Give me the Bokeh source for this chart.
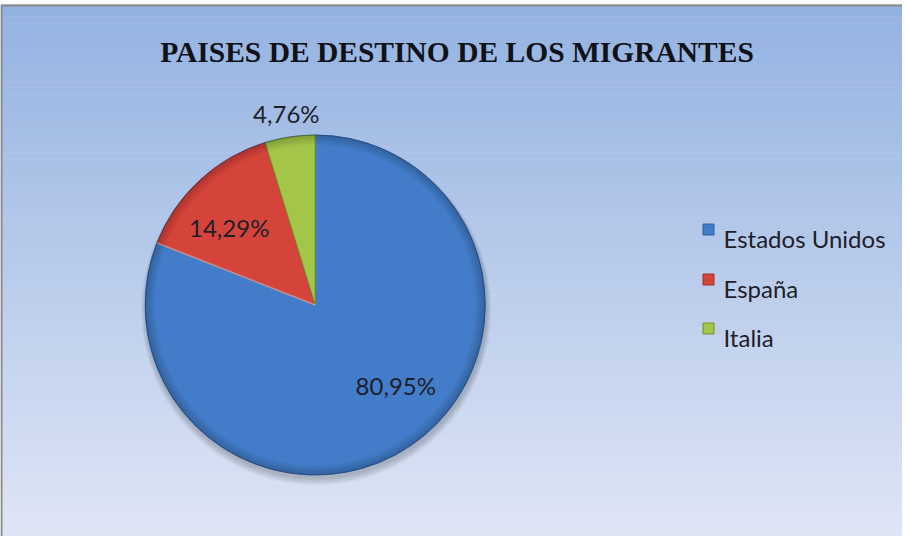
import math
from bokeh.plotting import figure
from bokeh.models import Range1d
from bokeh.core.properties import value
from bokeh.embed import file_html
from bokeh.resources import INLINE

# ---- data ----
title_text = "PAISES DE DESTINO DE LOS MIGRANTES"
categories = ["Estados Unidos", "España", "Italia"]
percentages = [80.95, 14.29, 4.76]
pct_labels = ["80,95%", "14,29%", "4,76%"]
colors = ["#437CC8", "#D5443B", "#A3C649"]
edge_colors = ["#2F5C9A", "#A0302A", "#6E8F2C"]

# ---- layout ----
W, H = 902, 536
def sx(x):  # screen x -> data x
    return x - 8
def sy(y):  # screen y -> data y
    return 544 - y

p = figure(width=W, height=H, output_backend="svg", toolbar_location=None,
           x_range=Range1d(0, W), y_range=Range1d(0, H), min_border=0,
           background_fill_color="white", border_fill_color="white",
           outline_line_color=None)
p.axis.visible = False
p.grid.visible = False

# background gradient (chart area)
top_c = (148, 178, 225)
bot_c = (222, 229, 245)
y_top = sy(12)
n = 90
bottoms, tops, cols = [], [], []
for i in range(n):
    t = i / (n - 1)
    y1 = y_top - (y_top) * i / n
    y0 = y_top - (y_top) * (i + 1) / n
    c = tuple(int(round(top_c[k] + (bot_c[k] - top_c[k]) * t)) for k in range(3))
    bottoms.append(y0 - 0.5)
    tops.append(y1)
    cols.append("#%02x%02x%02x" % c)
p.quad(left=0, right=W + 2, bottom=bottoms, top=tops, fill_color=cols, line_color=None)

# border (left and top)
p.line(x=[1, 1, W + 2], y=[-2, y_top - 1, y_top - 1], line_color="#8a8a8a", line_width=2)

# ---- pie ----
cx, cy, R = sx(322.7), sy(312.5), 170

# shadow
for k in range(6):
    p.circle(x=cx + 1, y=cy - 3 - k * 0.5, radius=R + 1 + k * 0.8,
             fill_color="black", fill_alpha=0.035, line_color=None)

total = sum(percentages)
starts, ends, mids = [], [], []
cum = 0.0
for v in percentages:
    a0 = cum / total
    cum += v
    a1 = cum / total
    starts.append(math.radians(90 - a1 * 360))
    ends.append(math.radians(90 - a0 * 360))
    mids.append(math.radians(90 - (a0 + a1) / 2 * 360))

p.wedge(x=cx, y=cy, radius=R, start_angle=starts, end_angle=ends,
        fill_color=colors, line_color=edge_colors, line_width=1)

# rim darkening (bevel look)
for k in range(8):
    p.annular_wedge(x=cx, y=cy, inner_radius=R - 10 + k * 1.25, outer_radius=R,
                    start_angle=0, end_angle=2 * math.pi,
                    fill_color="black", fill_alpha=0.025, line_color=None)
# light highlight line between blue and red
p.line(x=[cx, cx + R * math.cos(starts[0])], y=[cy, cy + R * math.sin(starts[0])],
       line_color="white", line_alpha=0.45, line_width=1.5)
p.circle(x=cx, y=cy, radius=R, fill_color=None, line_color="#2d4f80", line_alpha=0.5, line_width=1)

# data labels
label_r = [113.8, 116, 193.8]
label_shift = [math.radians(10.8), math.radians(5), 0.0]
lx = [cx + r * math.cos(m + s) for r, m, s in zip(label_r, mids, label_shift)]
ly = [cy + r * math.sin(m + s) for r, m, s in zip(label_r, mids, label_shift)]
p.text(x=lx, y=ly, text=pct_labels, text_font=value("Lato"), text_font_size="24px",
       text_color="#1e1e2a", text_align="center", text_baseline="middle")

# title
p.text(x=[sx(464.5)], y=[sy(59.5)], text=[title_text], text_font=value("Liberation Serif"),
       text_font_style="bold", text_font_size="29.5px", text_color="#111118",
       text_align="center", text_baseline="alphabetic")

# legend
base = [246, 296, 345]
p.rect(x=[sx(716)] * 3, y=[sy(b - 9) for b in base], width=11, height=11,
       fill_color=colors, line_color=edge_colors, line_width=1)
p.text(x=[sx(731)] * 3, y=[sy(b) for b in base], text=categories, text_font=value("Lato"),
       text_font_size="24px", text_color="#1e1e2a", text_align="left",
       text_baseline="alphabetic")

open("out.html", "w").write(file_html(p, INLINE))
